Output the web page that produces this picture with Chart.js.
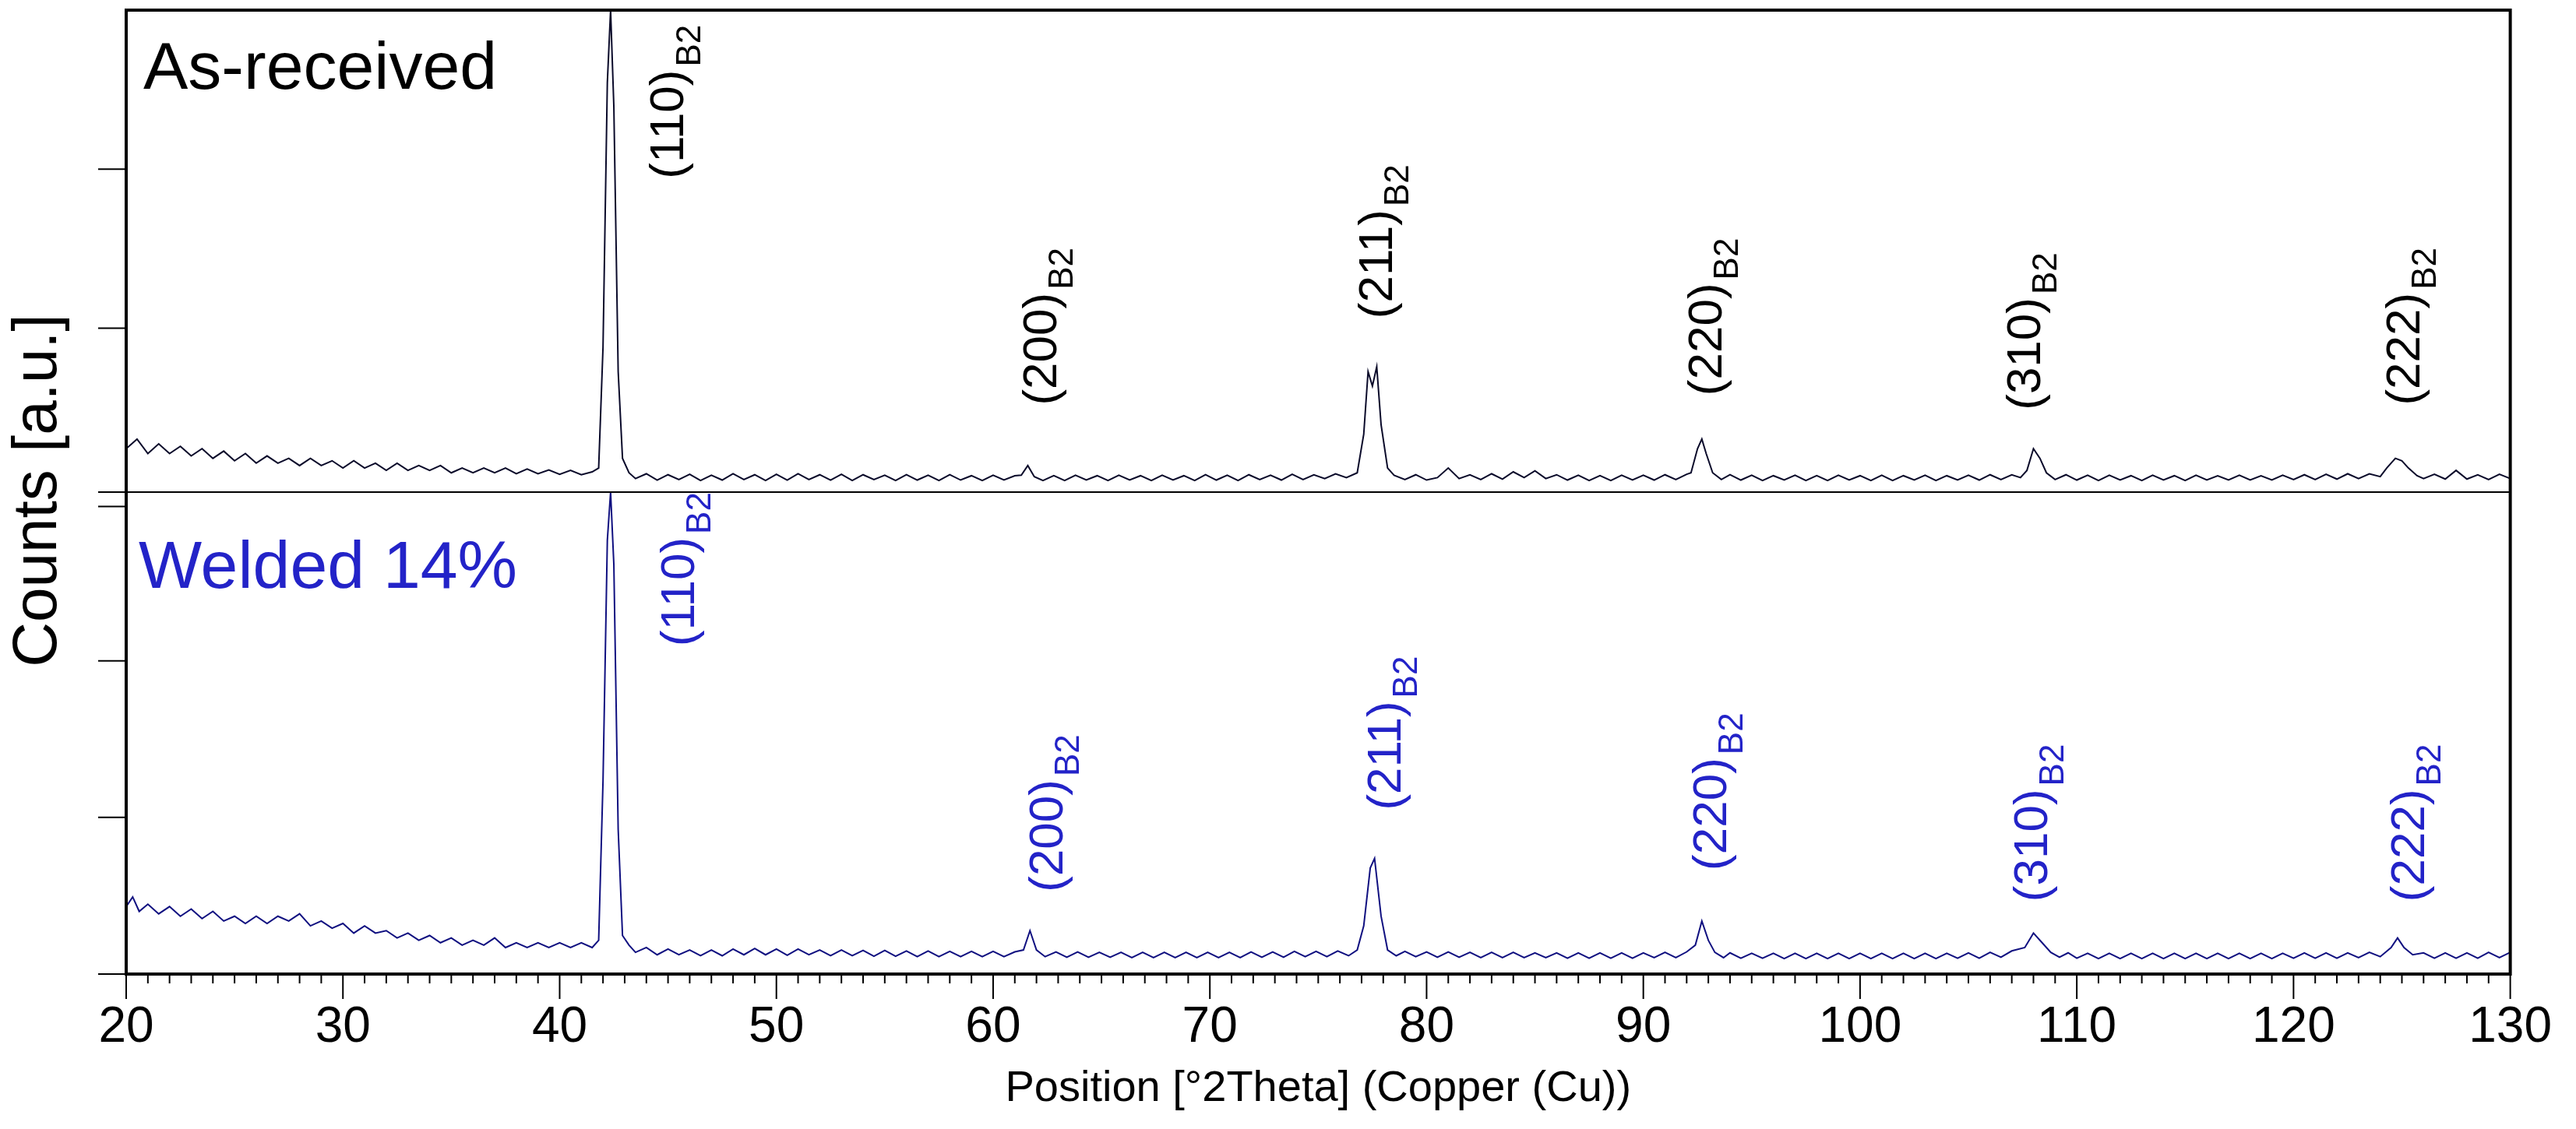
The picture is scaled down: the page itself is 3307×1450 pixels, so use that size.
<!DOCTYPE html>
<html>
<head>
<meta charset="utf-8">
<script src="https://cdn.jsdelivr.net/npm/chart.js@4"></script>
<style>
  html, body { margin: 0; padding: 0; background: #fff; }
  canvas { display: block; }
</style>
</head>
<body>
<canvas id="xrd" width="3307" height="1450"></canvas>
<script>
// [2theta, counts], counts in % of panel height
const asReceived = [
  [20,9],[20.5,11],[21,8],[21.5,10],[22,8],[22.5,9.5],[23,7.5],[23.5,9],[24,7],[24.5,8.5],
  [25,6.5],[25.5,8],[26,6],[26.5,7.5],[27,6],[27.5,7],[28,5.5],[28.5,7],[29,5.5],[29.5,6.5],
  [30,5],[30.5,6.5],[31,5],[31.5,6],[32,4.5],[32.5,6],[33,4.5],[33.5,5.5],[34,4.5],[34.5,5.5],
  [35,4],[35.5,5],[36,4],[36.5,5],[37,4],[37.5,5],[38,3.8],[38.5,4.8],[39,3.8],[39.5,4.6],
  [40,3.7],[40.5,4.5],[41,3.6],[41.5,4.2],[41.8,5],[42.0,30],[42.2,85],[42.35,100],[42.5,80],[42.7,25],
  [42.9,7],[43.2,4],[43.5,2.8],[44,3.8],[44.5,2.5],[45,3.6],[45.5,2.6],[46,3.7],[46.5,2.4],[47,3.5],
  [47.5,2.5],[48,3.8],[48.5,2.6],[49,3.6],[49.5,2.4],[50,3.7],[50.5,2.5],[51,3.8],[51.5,2.6],[52,3.6],
  [52.5,2.5],[53,3.7],[53.5,2.4],[54,3.6],[54.5,2.6],[55,3.5],[55.5,2.4],[56,3.6],[56.5,2.5],[57,3.5],
  [57.5,2.4],[58,3.6],[58.5,2.5],[59,3.4],[59.5,2.4],[60,3.5],[60.5,2.5],[61,3.4],[61.3,3.5],[61.6,5.5],
  [61.9,3.2],[62.3,2.4],[62.8,3.4],[63.3,2.4],[63.8,3.5],[64.3,2.5],[64.8,3.4],[65.3,2.4],[65.8,3.5],[66.3,2.5],
  [66.8,3.4],[67.3,2.4],[67.8,3.5],[68.3,2.5],[68.8,3.4],[69.3,2.4],[69.8,3.6],[70.3,2.5],[70.8,3.5],[71.3,2.4],
  [71.8,3.6],[72.3,2.6],[72.8,3.5],[73.3,2.5],[73.8,3.7],[74.3,2.6],[74.8,3.6],[75.3,2.8],[75.8,3.8],[76.3,3],
  [76.8,4],[77.1,12],[77.3,25],[77.5,22],[77.7,26],[77.9,14],[78.2,5],[78.5,3.5],[79,2.6],[79.5,3.6],
  [80,2.5],[80.5,3],[81,5],[81.5,2.8],[82,3.6],[82.5,2.6],[83,3.8],[83.5,2.7],[84,4.2],[84.5,3],
  [85,4.4],[85.5,2.8],[86,3.6],[86.5,2.5],[87,3.5],[87.5,2.4],[88,3.4],[88.5,2.4],[89,3.5],[89.5,2.5],
  [90,3.5],[90.5,2.5],[91,3.6],[91.5,2.6],[92,3.7],[92.2,4],[92.5,9],[92.7,11],[92.9,8],[93.2,4],
  [93.6,2.6],[94,3.6],[94.5,2.5],[95,3.5],[95.5,2.4],[96,3.4],[96.5,2.5],[97,3.5],[97.5,2.4],[98,3.4],
  [98.5,2.4],[99,3.5],[99.5,2.5],[100,3.4],[100.5,2.4],[101,3.5],[101.5,2.4],[102,3.4],[102.5,2.5],[103,3.5],
  [103.5,2.4],[104,3.4],[104.5,2.5],[105,3.5],[105.5,2.5],[106,3.6],[106.5,2.6],[107,3.6],[107.4,3],[107.7,4.5],
  [108,9],[108.3,7],[108.6,4],[109,2.6],[109.5,3.6],[110,2.5],[110.5,3.5],[111,2.4],[111.5,3.5],[112,2.5],
  [112.5,3.4],[113,2.4],[113.5,3.5],[114,2.5],[114.5,3.4],[115,2.4],[115.5,3.5],[116,2.5],[116.5,3.4],[117,2.5],
  [117.5,3.5],[118,2.5],[118.5,3.4],[119,2.5],[119.5,3.5],[120,2.6],[120.5,3.6],[121,2.6],[121.5,3.7],[122,2.7],
  [122.5,3.8],[123,2.8],[123.5,3.8],[124,3.2],[124.3,5],[124.7,7],[125,6.5],[125.3,5],[125.7,3.4],[126,2.8],
  [126.5,3.7],[127,2.7],[127.5,4.5],[128,2.7],[128.5,3.6],[129,2.6],[129.5,3.7],[130,2.8]
];

const welded14 = [
  [20,14],[20.3,16],[20.6,13],[21,14.5],[21.5,12.5],[22,14],[22.5,12],[23,13.5],[23.5,11.5],[24,13],
  [24.5,11],[25,12],[25.5,10.5],[26,12],[26.5,10.5],[27,12],[27.5,11],[28,12.5],[28.5,10],[29,11],
  [29.5,9.5],[30,10.5],[30.5,8.5],[31,10],[31.5,8.5],[32,9],[32.5,7.5],[33,8.5],[33.5,7],[34,8],
  [34.5,6.5],[35,7.5],[35.5,6],[36,7],[36.5,6],[37,7.5],[37.5,5.5],[38,6.5],[38.5,5.5],[39,6.5],
  [39.5,5.5],[40,6.5],[40.5,5.5],[41,6.5],[41.5,5.5],[41.8,7],[42.0,40],[42.2,90],[42.35,100],[42.5,85],
  [42.7,30],[42.9,8],[43.2,6],[43.5,4.5],[44,5.5],[44.5,4],[45,5.2],[45.5,4],[46,5],[46.5,3.8],
  [47,5],[47.5,3.8],[48,5.2],[48.5,4],[49,5.3],[49.5,4],[50,5.2],[50.5,3.9],[51,5.2],[51.5,4],
  [52,5],[52.5,3.8],[53,5],[53.5,3.8],[54,4.9],[54.5,3.7],[55,4.9],[55.5,3.7],[56,4.8],[56.5,3.6],
  [57,4.8],[57.5,3.6],[58,4.7],[58.5,3.6],[59,4.7],[59.5,3.6],[60,4.7],[60.5,3.6],[61,4.6],[61.4,5],
  [61.7,9],[62,5],[62.4,3.6],[62.9,4.6],[63.4,3.5],[63.9,4.6],[64.4,3.5],[64.9,4.5],[65.4,3.5],[65.9,4.5],
  [66.4,3.4],[66.9,4.5],[67.4,3.4],[67.9,4.5],[68.4,3.4],[68.9,4.5],[69.4,3.4],[69.9,4.5],[70.4,3.4],[70.9,4.5],
  [71.4,3.4],[71.9,4.6],[72.4,3.5],[72.9,4.6],[73.4,3.5],[73.9,4.7],[74.4,3.6],[74.9,4.7],[75.4,3.6],[75.9,4.8],
  [76.4,3.8],[76.8,5],[77.1,10],[77.4,22],[77.6,24],[77.9,12],[78.2,5],[78.6,3.8],[79,4.7],[79.5,3.6],
  [80,4.6],[80.5,3.5],[81,4.6],[81.5,3.5],[82,4.5],[82.5,3.4],[83,4.5],[83.5,3.4],[84,4.5],[84.5,3.4],
  [85,4.4],[85.5,3.4],[86,4.4],[86.5,3.3],[87,4.4],[87.5,3.3],[88,4.4],[88.5,3.3],[89,4.4],[89.5,3.3],
  [90,4.4],[90.5,3.4],[91,4.5],[91.5,3.4],[92,4.6],[92.4,6],[92.7,11],[93,7],[93.3,4.5],[93.7,3.4],
  [94,4.4],[94.5,3.3],[95,4.3],[95.5,3.3],[96,4.3],[96.5,3.2],[97,4.3],[97.5,3.2],[98,4.3],[98.5,3.2],
  [99,4.3],[99.5,3.2],[100,4.3],[100.5,3.2],[101,4.3],[101.5,3.2],[102,4.3],[102.5,3.2],[103,4.3],[103.5,3.2],
  [104,4.3],[104.5,3.3],[105,4.4],[105.5,3.3],[106,4.5],[106.5,3.5],[107,4.8],[107.6,5.5],[108,8.5],[108.4,6.5],
  [108.8,4.5],[109.2,3.5],[109.6,4.4],[110,3.3],[110.5,4.3],[111,3.2],[111.5,4.3],[112,3.2],[112.5,4.3],[113,3.2],
  [113.5,4.3],[114,3.2],[114.5,4.3],[115,3.2],[115.5,4.3],[116,3.2],[116.5,4.3],[117,3.2],[117.5,4.3],[118,3.2],
  [118.5,4.3],[119,3.2],[119.5,4.3],[120,3.3],[120.5,4.4],[121,3.3],[121.5,4.4],[122,3.3],[122.5,4.4],[123,3.4],
  [123.5,4.5],[124,3.6],[124.5,5.5],[124.8,7.5],[125.1,5.5],[125.5,4],[126,4.4],[126.5,3.3],[127,4.4],[127.5,3.3],
  [128,4.4],[128.5,3.3],[129,4.5],[129.5,3.4],[130,4.5]
];

// reflection labels: hkl, 2theta of the label, height (panel %) where the text starts
const peakHkl = ['(110)', '(200)', '(211)', '(220)', '(310)', '(222)'];
const asReceivedLabelTheta = [45.1, 62.3, 77.8, 93.0, 107.7, 125.2];
const asReceivedLabelLevel = [65, 18, 36, 20, 17, 18];
const weldedLabelTheta = [45.6, 62.6, 78.2, 93.2, 108.0, 125.4];
const weldedLabelLevel = [68, 17, 34, 21.5, 15, 15];

const xTickLabels = [20, 30, 40, 50, 60, 70, 80, 90, 100, 110, 120, 130];
const yTickLevels = [167, 134, 100, 97, 65, 32.5, 0];

const PANEL = 100; // top panel sits above the bottom one on a 0..200 scale
const FONT = '"Liberation Sans", Arial, sans-serif';
const TOP_COLOR = '#0a0a2a';
const BOTTOM_COLOR = '#101080';
const BOTTOM_TEXT = '#2323c8';

const decor = {
  id: 'decor',
  afterDraw(chart) {
    const { ctx, chartArea: a, scales: { x, y } } = chart;
    ctx.save();
    ctx.strokeStyle = '#000';
    ctx.lineWidth = 4;
    ctx.strokeRect(a.left, a.top, a.right - a.left, a.bottom - a.top);
    ctx.lineWidth = 2;
    ctx.beginPath();
    ctx.moveTo(a.left, y.getPixelForValue(PANEL));
    ctx.lineTo(a.right, y.getPixelForValue(PANEL));
    ctx.stroke();

    // x ticks, minor every degree
    for (let v = 20; v <= 130; v++) {
      const px = x.getPixelForValue(v);
      ctx.beginPath();
      ctx.moveTo(px, a.bottom);
      ctx.lineTo(px, a.bottom + (v % 10 === 0 ? 32 : 12));
      ctx.stroke();
    }
    // y ticks outside the frame
    yTickLevels.forEach(v => {
      const py = y.getPixelForValue(v);
      ctx.beginPath();
      ctx.moveTo(a.left - 36, py);
      ctx.lineTo(a.left, py);
      ctx.stroke();
    });

    // sample names
    ctx.textBaseline = 'alphabetic';
    ctx.font = `86px ${FONT}`;
    ctx.fillStyle = '#000';
    ctx.fillText('As-received', a.left + 22, 114);
    ctx.fillStyle = BOTTOM_TEXT;
    ctx.fillText('Welded 14%', a.left + 16, 755);

    // y title
    ctx.fillStyle = '#000';
    ctx.font = `80px ${FONT}`;
    ctx.textAlign = 'center';
    ctx.save();
    ctx.translate(50, 630);
    ctx.rotate(-Math.PI / 2);
    ctx.textBaseline = 'middle';
    ctx.fillText('Counts [a.u.]', 0, 0);
    ctx.restore();

    const drawLabel = (hkl, theta, level, color) => {
      ctx.save();
      ctx.translate(x.getPixelForValue(theta), y.getPixelForValue(level));
      ctx.rotate(-Math.PI / 2);
      ctx.fillStyle = color;
      ctx.textAlign = 'left';
      ctx.textBaseline = 'middle';
      ctx.font = `62px ${FONT}`;
      ctx.fillText(hkl, 0, 0);
      const w = ctx.measureText(hkl).width;
      ctx.font = `44px ${FONT}`;
      ctx.fillText('B2', w + 4, 26);
      ctx.restore();
    };
    peakHkl.forEach((h, i) => {
      drawLabel(h, asReceivedLabelTheta[i], asReceivedLabelLevel[i] + PANEL, '#000');
      drawLabel(h, weldedLabelTheta[i], weldedLabelLevel[i], BOTTOM_TEXT);
    });
    ctx.restore();
  }
};

new Chart(document.getElementById('xrd'), {
  type: 'line',
  data: {
    datasets: [
      {
        label: 'As-received',
        data: asReceived.map(([t, c]) => ({ x: t, y: c + PANEL })),
        borderColor: TOP_COLOR,
        borderWidth: 2,
        pointRadius: 0,
        tension: 0
      },
      {
        label: 'Welded 14%',
        data: welded14.map(([t, c]) => ({ x: t, y: c })),
        borderColor: BOTTOM_COLOR,
        borderWidth: 2,
        pointRadius: 0,
        tension: 0
      }
    ]
  },
  options: {
    responsive: false,
    animation: false,
    devicePixelRatio: 1,
    layout: { padding: { left: 162, right: 76, top: 13, bottom: 18 } },
    plugins: { legend: { display: false }, tooltip: { enabled: false } },
    scales: {
      x: {
        type: 'linear',
        min: 20,
        max: 130,
        grid: { display: false, drawTicks: false },
        border: { display: false },
        afterBuildTicks: s => { s.ticks = xTickLabels.map(v => ({ value: v })); },
        ticks: {
          padding: 31,
          color: '#000',
          font: { family: FONT, size: 64 },
          maxRotation: 0,
          autoSkip: false
        },
        title: {
          display: true,
          text: 'Position [°2Theta] (Copper (Cu))',
          color: '#000',
          font: { family: FONT, size: 56 },
          padding: { top: -25, bottom: 0 }
        }
      },
      y: {
        min: 0,
        max: 200,
        display: false
      }
    }
  },
  plugins: [decor]
});
</script>
</body>
</html>
